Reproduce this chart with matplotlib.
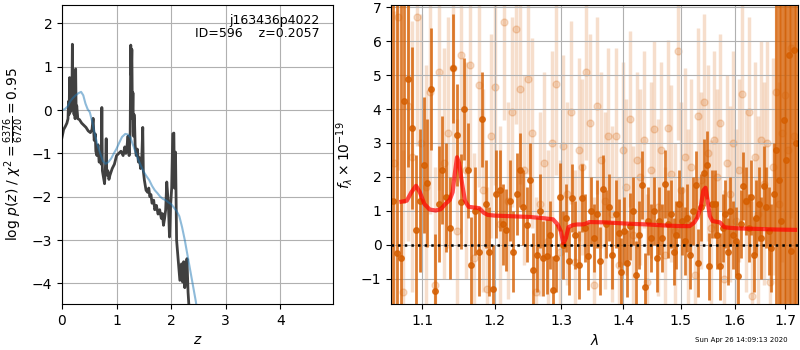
import numpy as np
import matplotlib
matplotlib.use('Agg')
import matplotlib.pyplot as plt
from matplotlib.ticker import FixedLocator, NullLocator, FixedFormatter

# ---- p(z) panel ----
z_pz = [0.00, 0.03, 0.06, 0.09, 0.11, 0.12, 0.13, 0.14, 0.15, 0.16, 0.17, 0.18,
        0.19, 0.20, 0.21, 0.22, 0.23, 0.24, 0.25, 0.26, 0.27, 0.29, 0.32, 0.36,
        0.40, 0.44, 0.48, 0.52, 0.55, 0.57, 0.59, 0.61, 0.62, 0.64, 0.66, 0.68,
        0.70, 0.72, 0.73, 0.74, 0.76, 0.78, 0.80, 0.81, 0.82, 0.84, 0.86, 0.88,
        0.92, 0.96, 1.00, 1.04, 1.08, 1.12, 1.15, 1.17, 1.19, 1.21, 1.23, 1.25,
        1.26, 1.27, 1.28, 1.29, 1.30, 1.31, 1.32, 1.33, 1.34, 1.36, 1.38, 1.40,
        1.42, 1.44, 1.46, 1.48, 1.49, 1.51, 1.54, 1.57, 1.59, 1.61, 1.63, 1.65,
        1.68, 1.70, 1.73, 1.76, 1.79, 1.82, 1.84, 1.86, 1.88, 1.90, 1.92, 1.95,
        1.97, 1.99, 2.01, 2.03, 2.05, 2.06, 2.08, 2.10, 2.13, 2.16, 2.19, 2.21,
        2.23, 2.25, 2.27, 2.29, 2.31, 2.33]
logp = [-0.63, -0.45, -0.38, -0.30, -0.20, 0.20, -0.10, 0.75, -0.05, 0.70, 0.10, 0.00,
        1.52, 0.10, 0.80, -0.10, 0.40, -0.20, 0.95, -0.15, 0.10, -0.20, -0.22, -0.30,
        -0.35, -0.40, -0.48, -0.52, -0.45, -0.19, -0.70, -0.55, -0.95, -1.05, -0.80, -1.20,
        -1.15, -1.25, 0.06, -1.40, -1.55, -1.70, -1.20, -0.66, -1.50, -1.40, -1.60, -1.50,
        -1.35, -1.25, -1.05, -1.00, -0.95, -1.05, -0.85, -1.00, -0.85, -0.60, -1.05, -0.50,
        1.50, 0.80, 1.40, -0.20, 0.40, -0.60, -0.10, -0.30, -0.80, -1.05, -0.90, -1.20,
        -1.10, -1.35, -1.20, -0.40, -1.40, -1.62, -1.85, -1.90, -1.80, -2.00, -1.95, -2.15,
        -2.08, -2.30, -2.20, -2.40, -2.30, -2.50, -2.39, -2.66, -2.50, -2.30, -1.66, -2.20,
        -2.93, -2.20, -1.80, -0.55, -0.53, -1.80, -0.97, -3.00, -3.47, -3.93, -3.55, -3.97,
        -3.50, -4.10, -3.80, -3.43, -4.20, -4.60]

z_smooth = [0.00, 0.05, 0.10, 0.15, 0.20, 0.25, 0.30, 0.35, 0.39, 0.43, 0.47, 0.51,
            0.56, 0.60, 0.65, 0.70, 0.75, 0.80, 0.85, 0.90, 0.95, 1.00, 1.05, 1.10,
            1.16, 1.20, 1.25, 1.30, 1.35, 1.40, 1.45, 1.50, 1.55, 1.60, 1.65, 1.70,
            1.75, 1.80, 1.85, 1.90, 1.95, 2.00, 2.05, 2.10, 2.15, 2.20, 2.25, 2.30,
            2.35, 2.40, 2.45, 2.50]
logp_smooth = [0.00, 0.02, 0.08, 0.20, 0.28, 0.34, 0.39, 0.42, 0.34, 0.15, 0.02, -0.05,
               -0.30, -0.55, -0.80, -1.00, -1.18, -1.24, -1.20, -1.12, -1.00, -0.89, -0.75, -0.62,
               -0.55, -0.56, -0.62, -0.80, -0.98, -1.15, -1.30, -1.43, -1.53, -1.62, -1.75, -1.85,
               -1.92, -2.00, -2.05, -2.08, -2.13, -2.17, -2.25, -2.33, -2.45, -2.70, -3.00, -3.35,
               -3.70, -4.05, -4.40, -4.80]

# ---- spectrum panel ----
light_wave = [1.063, 1.069, 1.075, 1.081, 1.087, 1.093, 1.099, 1.105, 1.111, 1.117,
              1.123, 1.129, 1.135, 1.141, 1.147, 1.153, 1.159, 1.165, 1.171, 1.177,
              1.183, 1.189, 1.195, 1.201, 1.207, 1.213, 1.219, 1.225, 1.231, 1.237,
              1.243, 1.249, 1.255, 1.261, 1.267, 1.273, 1.279, 1.285, 1.291, 1.297,
              1.303, 1.309, 1.315, 1.321, 1.327, 1.333, 1.339, 1.345, 1.351, 1.357,
              1.363, 1.369, 1.375, 1.381, 1.387, 1.393, 1.399, 1.405, 1.411, 1.417,
              1.423, 1.429, 1.435, 1.441, 1.447, 1.453, 1.459, 1.465, 1.471, 1.477,
              1.483, 1.489, 1.495, 1.501, 1.507, 1.513, 1.519, 1.525, 1.531, 1.537,
              1.543, 1.549, 1.555, 1.561, 1.567, 1.573, 1.579, 1.585, 1.591, 1.597,
              1.603, 1.609, 1.615, 1.621, 1.627, 1.633, 1.639, 1.645, 1.651, 1.657,
              1.663, 1.669, 1.675, 1.681, 1.687, 1.693, 1.699, 1.705, 1.711, 1.717]
light_flux = [2.4, 6.7, -1.4, 4.1, 2.6, 6.7, 3.0, 1.7, 4.5, -1.2,
              5.1, 2.4, 3.3, 5.2, 0.4, 5.6, 2.2, 5.3, -0.4, 4.7,
              1.6, -1.3, 3.2, 4.65, 0.6, 6.57, 1.3, 3.9, 6.36, 4.6,
              2.2, 4.9, 3.3, -1.4, 1.2, 2.4, 0.1, 3.0, 4.75, -0.2,
              2.9, 1.5, 3.9, -0.5, 2.8, 2.3, 5.1, 3.6, -1.2, 4.1,
              2.5, 1.3, 3.2, 0.9, 3.2, -0.6, 2.8, 1.7, 3.7, 0.3,
              2.5, 2.0, 3.1, -1.1, 2.2, 3.4, 1.1, 2.8, -0.3, 3.45,
              2.1, 0.4, 5.7, 1.6, 2.6, 0.8, 2.3, -0.9, 3.8, 1.9,
              4.2, 2.7, 0.5, 3.1, 2.0, 3.6, -1.0, 2.4, 1.5, 3.0,
              0.7, 2.2, 4.45, 1.3, 3.9, -1.5, 2.6, 0.9, 3.1, 1.8,
              3.0, -1.1, 2.3, 4.5, 1.2, 3.3, 4.4, 2.8, 5.8, 3.2]
light_err = [4.5, 4.5, 4.2, 4.0, 4.0, 3.8, 3.8, 3.6, 3.6, 3.5,
             3.5, 3.4, 3.4, 3.3, 3.3, 3.2, 3.2, 3.1, 3.1, 3.0,
             3.0, 3.0, 3.0, 2.9, 2.9, 2.9, 2.9, 2.8, 2.8, 2.8,
             2.8, 2.8, 2.8, 2.8, 2.7, 2.7, 2.7, 2.7, 2.7, 2.7,
             2.7, 2.7, 2.7, 2.7, 2.7, 2.6, 2.6, 2.6, 2.6, 2.6,
             2.6, 2.6, 2.6, 2.6, 2.6, 2.6, 2.6, 2.6, 2.6, 2.6,
             2.6, 2.6, 2.6, 2.6, 2.6, 2.6, 2.6, 2.6, 2.6, 2.6,
             2.6, 2.6, 2.6, 2.6, 2.6, 2.6, 2.6, 2.6, 2.6, 2.6,
             2.6, 2.6, 2.6, 2.6, 2.6, 2.6, 2.6, 2.6, 2.6, 2.7,
             2.7, 2.7, 2.7, 2.7, 2.8, 2.8, 2.8, 2.9, 2.9, 3.0,
             3.0, 3.1, 3.2, 3.4, 3.6, 3.8, 4.0, 4.5, 5.0, 5.5]

dark_wave = [1.062, 1.067, 1.072, 1.077, 1.082, 1.087, 1.092, 1.097, 1.102, 1.107,
             1.112, 1.117, 1.122, 1.127, 1.132, 1.137, 1.142, 1.147, 1.152, 1.157,
             1.162, 1.167, 1.172, 1.177, 1.182, 1.187, 1.192, 1.197, 1.202, 1.207,
             1.212, 1.217, 1.222, 1.227, 1.232, 1.237, 1.242, 1.247, 1.252, 1.257,
             1.262, 1.267, 1.272, 1.277, 1.282, 1.287, 1.292, 1.297, 1.302, 1.307,
             1.312, 1.317, 1.322, 1.327, 1.332, 1.337, 1.342, 1.347, 1.352, 1.357,
             1.362, 1.367, 1.372, 1.377, 1.382, 1.387, 1.392, 1.397, 1.402, 1.407,
             1.412, 1.417, 1.422, 1.427, 1.432, 1.437, 1.442, 1.447, 1.452, 1.457,
             1.462, 1.467, 1.472, 1.477, 1.482, 1.487, 1.492, 1.497, 1.502, 1.507,
             1.512, 1.517, 1.522, 1.527, 1.532, 1.537, 1.542, 1.547, 1.552, 1.557,
             1.562, 1.567, 1.572, 1.577, 1.582, 1.587, 1.592, 1.597, 1.602, 1.607,
             1.612, 1.617, 1.622, 1.627, 1.632, 1.637, 1.642, 1.647, 1.652, 1.657,
             1.662, 1.667, 1.672, 1.677, 1.682, 1.687, 1.692, 1.697, 1.702, 1.707,
             1.712, 1.717, 1.722]
dark_flux = [1.3, -0.24, -0.39, 4.24, 4.88, 3.44, 0.44, 1.3, 2.35, 1.82,
             4.6, -1.37, 1.2, 2.2, 1.4, 0.5, 5.2, 3.23, 1.27, 4.0,
             2.2, -0.59, 1.0, -0.2, 3.7, 1.2, -0.2, -1.3, 1.5, 1.6,
             0.6, 0.44, 1.3, -0.2, 1.5, 2.2, 1.1, 0.59, 1.9, -0.74,
             -0.29, 1.0, -0.4, -0.34, 0.3, -1.32, -0.39, 1.42, 0.0, 0.8,
             -0.49, 1.38, 0.3, -0.6, 1.38, 0.5, -0.34, 1.0, 0.2, 0.9,
             -0.49, 1.64, 0.6, 1.1, -0.3, 0.9, 0.34, -0.8, 0.4, -0.55,
             0.54, 1.0, -0.88, 0.3, 1.76, -1.23, 0.7, 0.2, 1.0, -0.4,
             0.7, 0.2, 1.78, 0.6, 0.9, -0.2, 0.3, 1.2, 0.7, 0.1,
             0.8, -0.3, 1.0, 1.76, -0.54, 1.1, 2.13, 2.35, -0.64, 1.2,
             1.2, 0.3, -0.64, 0.5, 0.9, -0.2, 1.0, 0.3, 0.1, -0.93,
             0.6, 1.72, 1.3, 0.5, 1.4, -0.29, 0.8, 1.2, 0.2, 1.72,
             1.1, 0.4, -0.09, 1.5, 2.8, 1.9, 0.7, 3.67, 2.5, 5.6,
             -0.19, 5.75, 3.0]
dark_err = [9.0, 9.0, 9.0, 3.0, 2.6, 2.4, 2.2, 2.1, 2.0, 1.9,
            1.8, 1.7, 1.7, 1.6, 1.6, 1.5, 1.6, 1.5, 1.4, 1.5,
            1.4, 1.4, 1.3, 1.3, 1.4, 1.3, 1.3, 1.3, 1.3, 1.2,
            1.2, 1.2, 1.2, 1.2, 1.2, 1.1, 1.1, 1.1, 1.1, 1.1,
            1.1, 1.1, 1.1, 1.1, 1.0, 1.0, 1.0, 1.0, 1.0, 1.0,
            1.0, 1.0, 1.0, 1.0, 1.0, 1.0, 1.0, 1.0, 1.0, 1.0,
            1.0, 1.0, 1.0, 1.0, 1.0, 1.0, 1.0, 1.0, 1.0, 1.0,
            1.0, 1.0, 1.0, 1.0, 1.0, 1.0, 1.0, 1.0, 1.0, 1.0,
            1.0, 1.0, 1.0, 1.0, 1.0, 1.0, 1.0, 1.0, 1.0, 1.0,
            1.0, 1.0, 1.0, 1.0, 1.0, 1.0, 1.0, 1.0, 1.0, 1.0,
            1.0, 1.0, 1.0, 1.0, 1.0, 1.0, 1.0, 1.0, 1.0, 1.0,
            1.0, 1.0, 1.0, 1.0, 1.1, 1.1, 1.1, 1.1, 1.2, 1.2,
            1.2, 1.3, 1.3, 1.5, 9.0, 9.0, 9.0, 9.0, 9.0, 9.0,
            9.0, 9.0, 9.0]

model_wave = [1.073, 1.080, 1.086, 1.092, 1.097, 1.103, 1.110, 1.118, 1.125, 1.131,
              1.137, 1.141, 1.144, 1.147, 1.150, 1.154, 1.158, 1.163, 1.170, 1.178,
              1.184, 1.190, 1.200, 1.225, 1.251, 1.274, 1.287, 1.294, 1.299, 1.303,
              1.307, 1.311, 1.318, 1.325, 1.333, 1.338, 1.344, 1.370, 1.410, 1.440,
              1.470, 1.500, 1.516, 1.524, 1.530, 1.536, 1.541, 1.545, 1.549, 1.553,
              1.558, 1.565, 1.572, 1.580, 1.590, 1.610, 1.640, 1.680, 1.720]
model_flux = [1.27, 1.30, 1.55, 1.74, 1.55, 1.20, 1.04, 1.01, 1.05, 1.20,
              1.32, 1.55, 2.10, 2.58, 2.40, 1.80, 1.30, 1.12, 1.10, 1.08,
              0.95, 0.88, 0.86, 0.84, 0.82, 0.78, 0.75, 0.60, 0.40, 0.04,
              0.20, 0.52, 0.58, 0.60, 0.60, 0.62, 0.67, 0.66, 0.62, 0.60,
              0.57, 0.55, 0.55, 0.65, 0.80, 1.10, 1.60, 1.68, 1.30, 0.85,
              0.70, 0.68, 0.66, 0.52, 0.50, 0.48, 0.47, 0.45, 0.44]

grism_color = (0.8352941, 0.3686275, 0.0)

fig = plt.figure(figsize=(8, 3.5), dpi=100)

# p(z)
ax = fig.add_axes([0.0775, 0.131, 0.339, 0.854])
ax.plot(z_pz, logp, color='0.25', lw=2)
ax.plot(z_smooth, logp_smooth, color='C0', alpha=0.5, lw=1.5)
ax.set_xlim(0, 4.97)
ax.set_ylim(-4.48, 2.42)
ax.set_xticks([0, 1, 2, 3, 4])
ax.set_yticks([-4, -3, -2, -1, 0, 1, 2])
ax.grid(True)
ax.set_xlabel('$z$')
ax.set_ylabel(r'log $p(z)$ / $\chi^2=\frac{6376}{6720}=0.95$')
ax.text(0.95, 0.97, 'j163436p4022\nID=596    z=0.2057', ha='right', va='top',
        transform=ax.transAxes, fontsize=9, linespacing=1.0)

# spectrum
ax2 = fig.add_axes([0.489, 0.131, 0.509, 0.854])
ax2.set_xscale('log')
ax2.errorbar(light_wave, light_flux, yerr=light_err, color=grism_color, alpha=0.2,
             marker='o', markersize=5, linestyle='None', elinewidth=2.5, zorder=1)
ax2.errorbar(dark_wave, dark_flux, yerr=dark_err, color=grism_color, alpha=0.8,
             marker='o', markersize=4, linestyle='None', elinewidth=2.0, zorder=2)
ax2.plot(model_wave, model_flux, color='r', alpha=0.7, lw=3, zorder=3)
ax2.axhline(0, color='k', linestyle=':', lw=1.8, zorder=4)
ax2.set_xlim(1.06, 1.727)
ax2.set_ylim(-1.75, 7.06)
ticks = [1.1, 1.2, 1.3, 1.4, 1.5, 1.6, 1.7]
ax2.xaxis.set_major_locator(FixedLocator(ticks))
ax2.xaxis.set_major_formatter(FixedFormatter(['%.1f' % t for t in ticks]))
ax2.xaxis.set_minor_locator(NullLocator())
ax2.set_yticks([-1, 0, 1, 2, 3, 4, 5, 6, 7])
ax2.grid(True)
ax2.set_xlabel(r'$\lambda$')
ax2.set_ylabel(r'$f_\lambda \times 10^{-19}$')

fig.text(0.985, 0.02, 'Sun Apr 26 14:09:13 2020', ha='right', va='bottom', fontsize=5)

fig.savefig('out.png', dpi=100)
